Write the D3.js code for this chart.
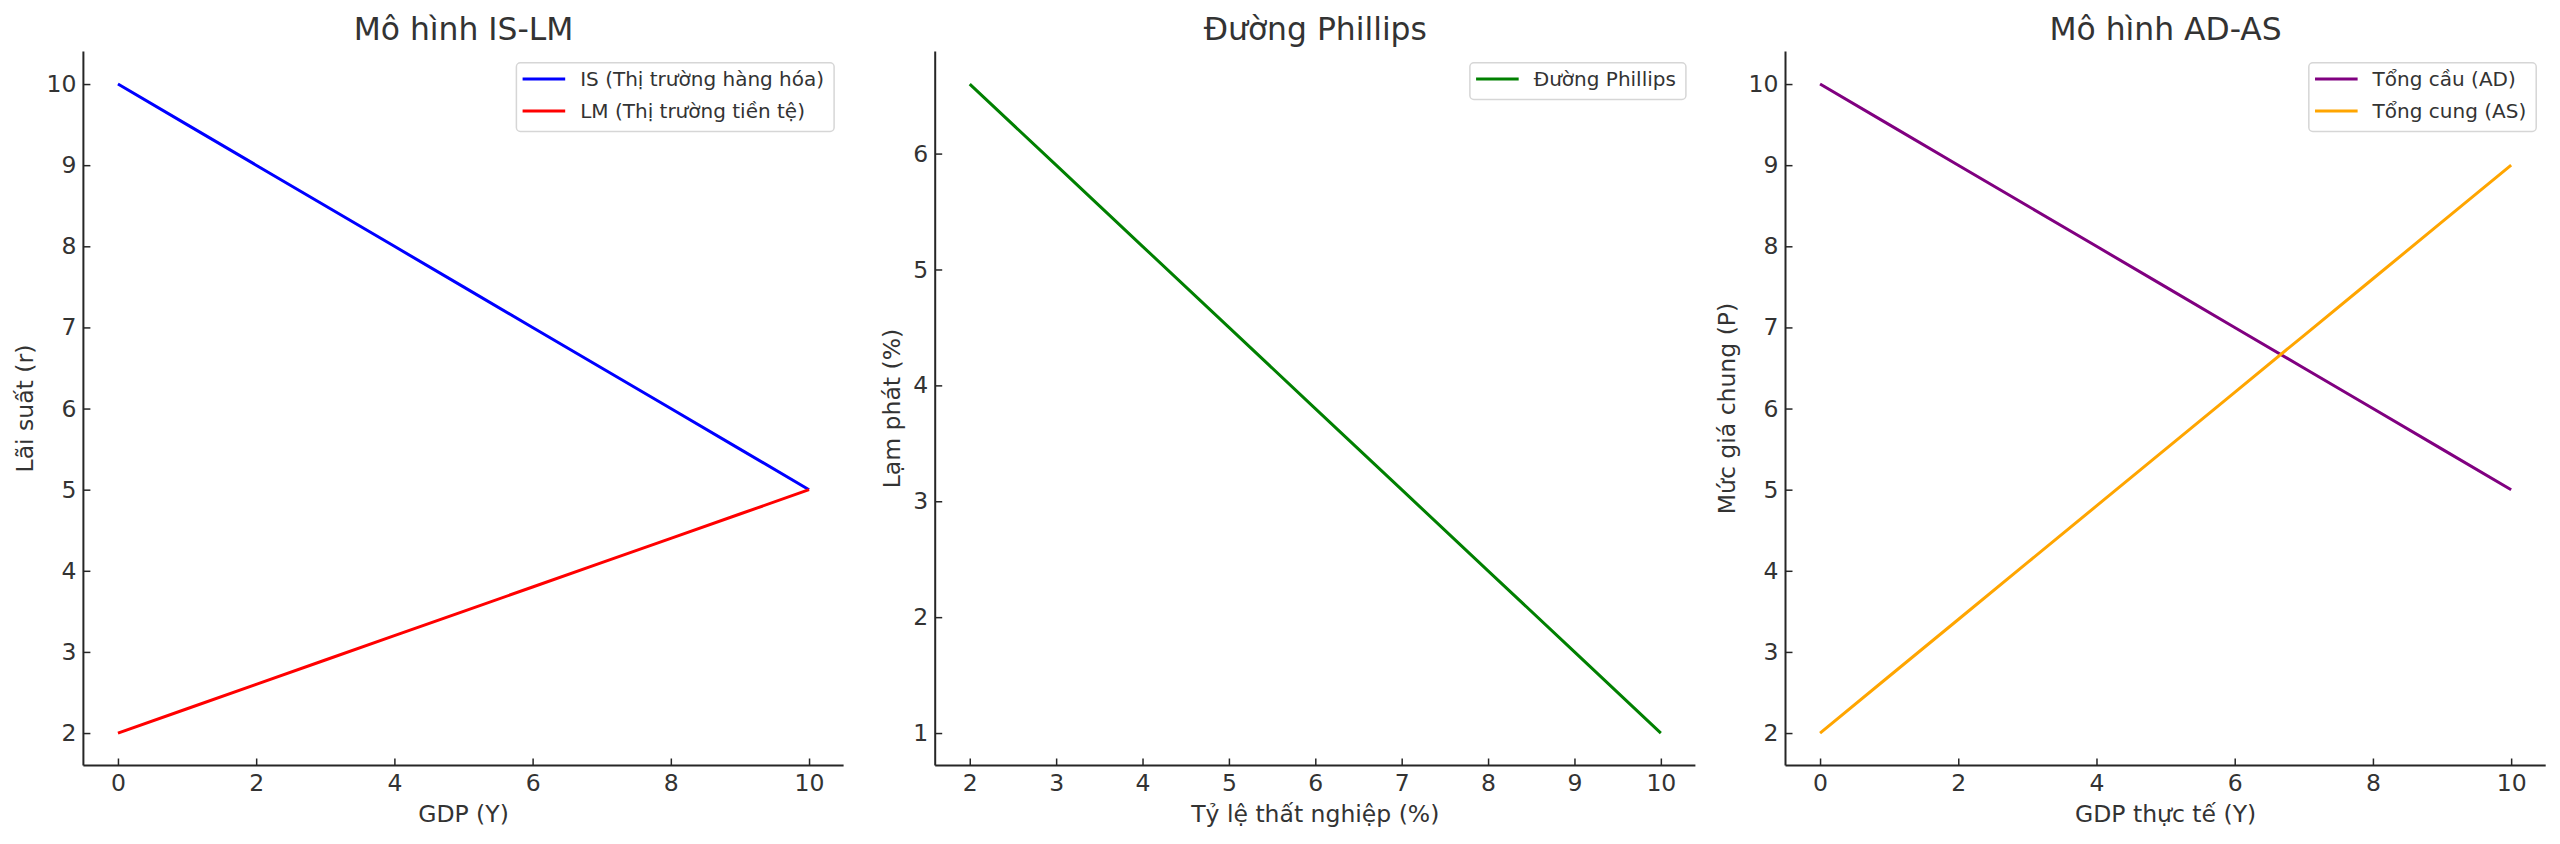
<!DOCTYPE html>
<html>
<head>
<meta charset="utf-8">
<script src="https://cdn.jsdelivr.net/npm/d3@7"></script>
<style>
  html, body { margin: 0; padding: 0; background: #fff; }
  svg { display: block; font-family: 'DejaVu Sans', sans-serif; }
</style>
</head>
<body>
<div id="chart"></div>
<script>
// chart values
const gdp = [0, 1, 2, 3, 4, 5, 6, 7, 8, 9, 10];
const isRate = [10, 9.5, 9, 8.5, 8, 7.5, 7, 6.5, 6, 5.5, 5];
const lmRate = [2, 2.3, 2.6, 2.9, 3.2, 3.5, 3.8, 4.1, 4.4, 4.7, 5];

const unemployment = [2, 3, 4, 5, 6, 7, 8, 9, 10];
const inflation = [6.6, 5.9, 5.2, 4.5, 3.8, 3.1, 2.4, 1.7, 1.0];

const realGdp = [0, 1, 2, 3, 4, 5, 6, 7, 8, 9, 10];
const adPrice = [10, 9.5, 9, 8.5, 8, 7.5, 7, 6.5, 6, 5.5, 5];
const asPrice = [2, 2.7, 3.4, 4.1, 4.8, 5.5, 6.2, 6.9, 7.6, 8.3, 9];

const titles = ['Mô hình IS-LM', 'Đường Phillips', 'Mô hình AD-AS'];
const xLabels = ['GDP (Y)', 'Tỷ lệ thất nghiệp (%)', 'GDP thực tế (Y)'];
const yLabels = ['Lãi suất (r)', 'Lạm phát (%)', 'Mức giá chung (P)'];

const xTicks = [[0, 2, 4, 6, 8, 10], [2, 3, 4, 5, 6, 7, 8, 9, 10], [0, 2, 4, 6, 8, 10]];
const yTicks = [[2, 3, 4, 5, 6, 7, 8, 9, 10], [1, 2, 3, 4, 5, 6], [2, 3, 4, 5, 6, 7, 8, 9, 10]];

const panels = [
  {
    x: [-0.5, 10.5], y: [1.6, 10.4],
    series: [
      { name: 'IS (Thị trường hàng hóa)', xs: gdp, ys: isRate, color: 'blue' },
      { name: 'LM (Thị trường tiền tệ)', xs: gdp, ys: lmRate, color: 'red' },
    ],
  },
  {
    x: [1.6, 10.4], y: [0.72, 6.88],
    series: [
      { name: 'Đường Phillips', xs: unemployment, ys: inflation, color: 'green' },
    ],
  },
  {
    x: [-0.5, 10.5], y: [1.6, 10.4],
    series: [
      { name: 'Tổng cầu (AD)', xs: realGdp, ys: adPrice, color: 'purple' },
      { name: 'Tổng cung (AS)', xs: realGdp, ys: asPrice, color: 'orange' },
    ],
  },
];

// layout
const W = 2560;
const H = 844;
const lefts = [83.4, 935.2, 1785.5];
const axW = 760.2;
const axTop = 51.6;
const axBottom = 765.5;
const ink = '#262626';
const textColor = '#333';

const svg = d3.select('#chart')
  .append('svg')
  .attr('width', W)
  .attr('height', H);

panels.forEach((p, i) => {
  const left = lefts[i];
  const right = left + axW;

  const x = d3.scaleLinear().domain(p.x).range([left, right]);
  const y = d3.scaleLinear().domain(p.y).range([axBottom, axTop]);

  const g = svg.append('g');

  // lines
  const line = d3.line()
    .x(d => x(d[0]))
    .y(d => y(d[1]));

  p.series.forEach((s) => {
    g.append('path')
      .attr('d', line(s.xs.map((v, k) => [v, s.ys[k]])))
      .attr('fill', 'none')
      .attr('stroke', s.color)
      .attr('stroke-width', 3);
  });

  // x axis
  const gx = g.append('g')
    .attr('transform', `translate(0, ${axBottom})`)
    .call(d3.axisBottom(x).tickValues(xTicks[i]).tickFormat(d3.format('d'))
      .tickSizeInner(-7).tickSizeOuter(0).tickPadding(9));

  // y axis
  const gy = g.append('g')
    .attr('transform', `translate(${left}, 0)`)
    .call(d3.axisLeft(y).tickValues(yTicks[i]).tickFormat(d3.format('d'))
      .tickSizeInner(-7).tickSizeOuter(0).tickPadding(7));

  [gx, gy].forEach((ax) => {
    ax.attr('font-family', null).attr('font-size', null);
    ax.select('.domain').attr('stroke', ink).attr('stroke-width', 2);
    ax.selectAll('.tick line').attr('stroke', ink).attr('stroke-width', 1.5);
    ax.selectAll('.tick text')
      .attr('fill', textColor)
      .style('font-family', "'DejaVu Sans', sans-serif")
      .style('font-size', '23.5px');
  });
  // spines span the whole axes box
  gx.select('.domain').attr('d', `M${left},0H${right}`);
  gy.select('.domain').attr('d', `M0,${axTop}V${axBottom}`);

  // tick label width for ylabel placement
  let maxW = 0;
  gy.selectAll('.tick text').each(function () { // eslint-disable-line
    maxW = Math.max(maxW, this.getComputedTextLength());
  });

  // title
  g.append('text')
    .attr('x', (left + right) / 2)
    .attr('y', 40)
    .attr('text-anchor', 'middle')
    .attr('fill', textColor)
    .style('font-size', '31.4px')
    .text(titles[i]);

  // x label
  g.append('text')
    .attr('x', (left + right) / 2)
    .attr('y', 821.5)
    .attr('text-anchor', 'middle')
    .attr('fill', textColor)
    .style('font-size', '23.5px')
    .text(xLabels[i]);

  // y label
  const ylx = left - 7 - maxW - 7.8 - 5.5;
  g.append('text')
    .attr('transform', `translate(${ylx}, ${(axTop + axBottom) / 2}) rotate(-90)`)
    .attr('text-anchor', 'middle')
    .attr('fill', textColor)
    .style('font-size', '23.5px')
    .text(yLabels[i]);

  // legend
  const lg = g.append('g');
  const frame = lg.append('rect');
  const rows = p.series.map((s, k) => {
    const row = lg.append('g').attr('transform', `translate(0, ${16.7 + 32 * k})`);
    row.append('line')
      .attr('x1', 6.7).attr('x2', 49.3)
      .attr('stroke', s.color)
      .attr('stroke-width', 3);
    const t = row.append('text')
      .attr('x', 64.3)
      .attr('dy', '0.36em')
      .attr('fill', textColor)
      .style('font-size', '20px')
      .text(s.name);
    return t.node().getComputedTextLength();
  });
  const lw = 64.3 + d3.max(rows) + 9.5;
  const lh = 36.7 + 32 * (p.series.length - 1);
  frame
    .attr('x', 0.5).attr('y', 0.5)
    .attr('width', lw).attr('height', lh)
    .attr('rx', 4).attr('ry', 4)
    .attr('fill', 'white')
    .attr('fill-opacity', 0.8)
    .attr('stroke', '#d6d6d6')
    .attr('stroke-width', 1.5);
  lg.attr('transform', `translate(${right - 10 - lw}, ${axTop + 10.7})`);
});
</script>
</body>
</html>
